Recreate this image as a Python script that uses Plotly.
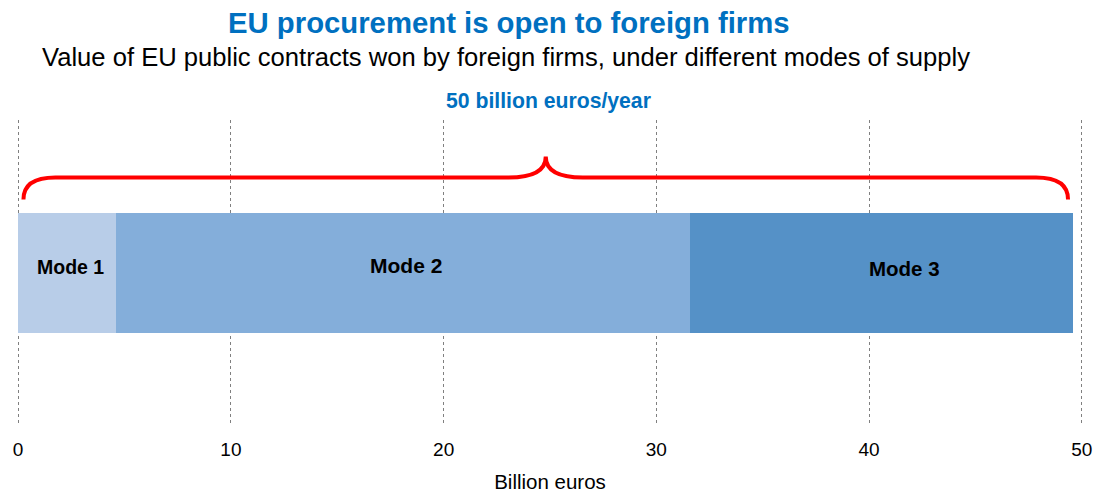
import plotly.graph_objects as go

# Value of EU public contracts won by foreign firms (billion euros per year)
modes = ["Mode 1", "Mode 2", "Mode 3"]
values = [4.6, 27.0, 18.0]
colors = ["#B8CDE8", "#84AEDA", "#5591C7"]
x_ticks = [0, 10, 20, 30, 40, 50]

total = sum(values)
BLUE = "#0070C0"
FONT = "Liberation Sans, Arial, sans-serif"

# plot area in pixels (used to place the heading texts)
PLOT_L, PLOT_R, PLOT_T, PLOT_B = 18, 1082, 120, 425
X_PAD = 0.1  # small padding so the gridlines at 0 and 50 are drawn
px_per_unit = (PLOT_R - PLOT_L) / 50.0
pad_px = X_PAD * px_per_unit


def px_to_paper(px, py):
    return ((px - (PLOT_L - pad_px)) / (PLOT_R - PLOT_L + 2 * pad_px),
            (PLOT_B - py) / (PLOT_B - PLOT_T))


fig = go.Figure()

for name, val, col in zip(modes, values, colors):
    fig.add_trace(go.Bar(
        x=[val], y=[0], orientation="h", name=name,
        marker=dict(color=col, line=dict(width=0)),
        width=1.2, showlegend=False, hoverinfo="x+name",
    ))

# Mode labels centred on each segment
start = 0.0
label_style = [(3, 6, 19.5), (3, 7, 21), (23, 4, 20.5)]
for name, val, (dx, dy, fs) in zip(modes, values, label_style):
    fig.add_annotation(
        x=start + val / 2, y=0, xref="x", yref="y", text=f"<b>{name}</b>",
        showarrow=False, xshift=dx, yshift=dy,
        font=dict(family=FONT, size=fs, color="#000000"),
    )
    start += val

# Curly brace spanning the total
inset = 0.25
x0, x1 = inset, total - inset
mid = total / 2
y_end, y_line, y_tip = 0.73, 0.95, 1.16
corner, tipw = 1.5, 1.75
path = (
    f"M {x0},{y_end} Q {x0},{y_line} {x0 + corner},{y_line} "
    f"L {mid - tipw},{y_line} Q {mid},{y_line} {mid},{y_tip} "
    f"Q {mid},{y_line} {mid + tipw},{y_line} "
    f"L {x1 - corner},{y_line} Q {x1},{y_line} {x1},{y_end}"
)
fig.add_shape(type="path", path=path, xref="x", yref="y",
              line=dict(color="#FF0000", width=4))

_, ly = px_to_paper(0, 101)
fig.add_annotation(
    x=mid, y=ly, xref="x", yref="paper", yanchor="middle", xshift=3,
    text=f"<b>{round(total):d} billion euros/year</b>",
    showarrow=False, font=dict(family=FONT, size=21.2, color=BLUE),
)

tx, ty = px_to_paper(509, 23)
fig.add_annotation(
    x=tx, y=ty, xref="paper", yref="paper", yanchor="middle",
    text="<b>EU procurement is open to foreign firms</b>", showarrow=False,
    font=dict(family=FONT, size=29.3, color=BLUE),
)
sx, sy = px_to_paper(506, 57)
fig.add_annotation(
    x=sx, y=sy, xref="paper", yref="paper", yanchor="middle",
    text="Value of EU public contracts won by foreign firms, under different modes of supply",
    showarrow=False, font=dict(family=FONT, size=25.6, color="#000000"),
)

fig.update_layout(
    width=1101, height=493,
    margin=dict(l=PLOT_L - pad_px, r=1101 - PLOT_R - pad_px, t=PLOT_T, b=493 - PLOT_B),
    paper_bgcolor="white", plot_bgcolor="white",
    barmode="stack", bargap=0,
    font=dict(family=FONT, color="#000000"),
    xaxis=dict(
        range=[-X_PAD, 50 + X_PAD], tickvals=x_ticks, ticktext=[str(t) for t in x_ticks],
        showgrid=True, gridcolor="#808080", griddash="dot", gridwidth=1,
        zeroline=False, showline=False, ticks="", ticklabelstandoff=11,
        automargin=False,
        tickfont=dict(family=FONT, size=19, color="#000000"),
        title=dict(text="Billion euros", font=dict(family=FONT, size=20.5, color="#000000"), standoff=17),
    ),
    yaxis=dict(range=[-1.525, 1.525], visible=False, fixedrange=True),
)

fig.write_html("out.html")
